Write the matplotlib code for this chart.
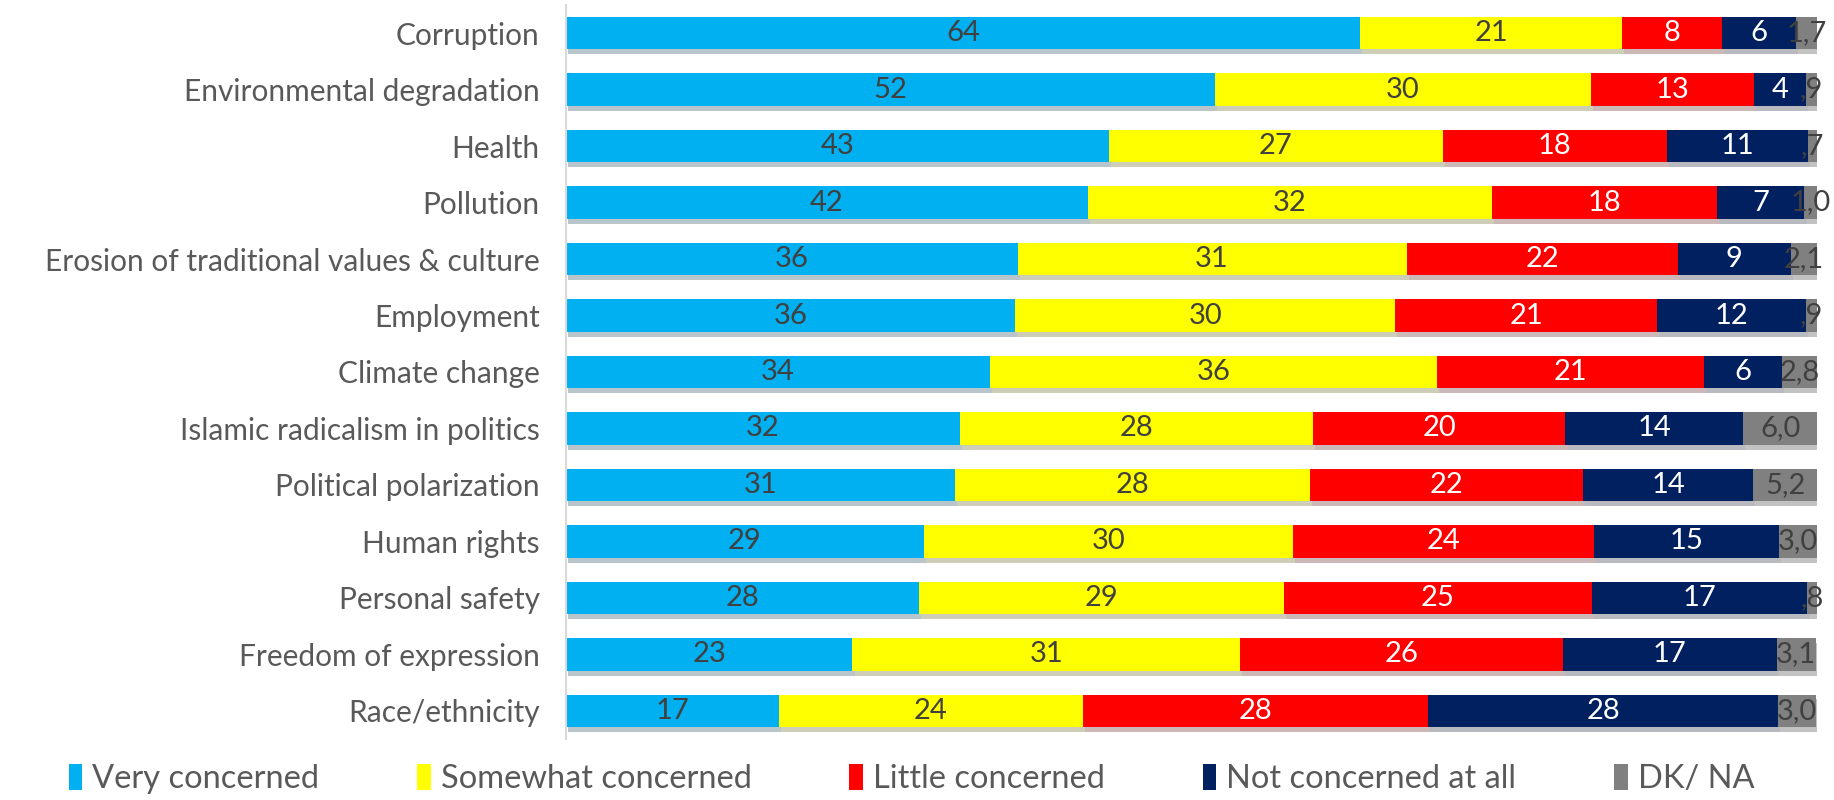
import matplotlib
matplotlib.use("Agg")
import matplotlib.pyplot as plt
import matplotlib.patheffects as pe
from matplotlib.patches import Patch
import numpy as np

# survey: how concerned are you about ... (% of respondents)
issues = ["Corruption", "Environmental degradation", "Health", "Pollution",
          "Erosion of traditional values & culture", "Employment", "Climate change",
          "Islamic radicalism in politics", "Political polarization", "Human rights",
          "Personal safety", "Freedom of expression", "Race/ethnicity"]

very = [63.5, 51.9, 43.4, 41.7, 36.1, 35.9, 33.9, 31.5, 31.1, 28.6, 28.2, 22.9, 17.0]
somewhat = [20.9, 30.0, 26.7, 32.3, 31.1, 30.4, 35.7, 28.2, 28.4, 29.5, 29.2, 31.0, 24.3]
little = [8.0, 13.1, 17.9, 18.0, 21.7, 20.9, 21.4, 20.2, 21.8, 24.1, 24.6, 25.8, 27.6]
not_at_all = [5.9, 4.1, 11.3, 7.0, 9.0, 11.9, 6.2, 14.2, 13.6, 14.8, 17.2, 17.1, 28.0]
dk_na = [1.7, 0.9, 0.7, 1.0, 2.1, 0.9, 2.8, 6.0, 5.2, 3.0, 0.8, 3.1, 3.0]

series = [
    ("Very concerned", very, "#00B0F0", "#404040"),
    ("Somewhat concerned", somewhat, "#FFFF00", "#404040"),
    ("Little concerned", little, "#FF0000", "white"),
    ("Not concerned at all", not_at_all, "#002060", "white"),
    ("DK/ NA", dk_na, "#808080", "#404040"),
]

plt.rcParams["font.family"] = ["Lato", "DejaVu Sans"]

fig = plt.figure(figsize=(18.34, 8), dpi=100)
ax = fig.add_axes([0.3086, 0.076, 0.6821, 0.918])

y = np.arange(len(issues))
left = np.zeros(len(issues))
shadow = [pe.SimplePatchShadow(offset=(1.5, -3.5), alpha=0.28), pe.Normal()]


def dk_fmt(v):
    s = f"{v:.1f}".replace(".", ",")
    return s[1:] if s.startswith("0") else s


handles = []
for name, vals, color, tcolor in series:
    vals = np.array(vals)
    ax.barh(y, vals, left=left, height=0.58, color=color,
            path_effects=shadow, zorder=2)
    for i, v in enumerate(vals):
        txt = dk_fmt(v) if name == "DK/ NA" else f"{v:.0f}"
        ax.text(left[i] + v / 2, y[i], txt, ha="center", va="center",
                color=tcolor, fontsize=21, zorder=3)
    left += vals
    handles.append(Patch(facecolor=color, label=name))

ax.set_xlim(0, 100)
ax.set_ylim(len(issues) - 0.5, -0.5)
ax.set_yticks(y)
ax.set_yticklabels(issues, fontsize=21.5, color="#595959")
ax.tick_params(axis="y", length=0, pad=19)
ax.set_xticks([])
for s in ["top", "right", "bottom"]:
    ax.spines[s].set_visible(False)
ax.spines["left"].set_color("#D9D9D9")
ax.spines["left"].set_linewidth(1.5)

fig.legend(handles=handles, loc="center", bbox_to_anchor=(0.497, 0.026), ncol=5,
           frameon=False, fontsize=23.5, labelcolor="#595959", handlelength=0.42,
           handleheight=0.85, handletextpad=0.3, columnspacing=3.0)

fig.savefig("out.png", dpi=100)
